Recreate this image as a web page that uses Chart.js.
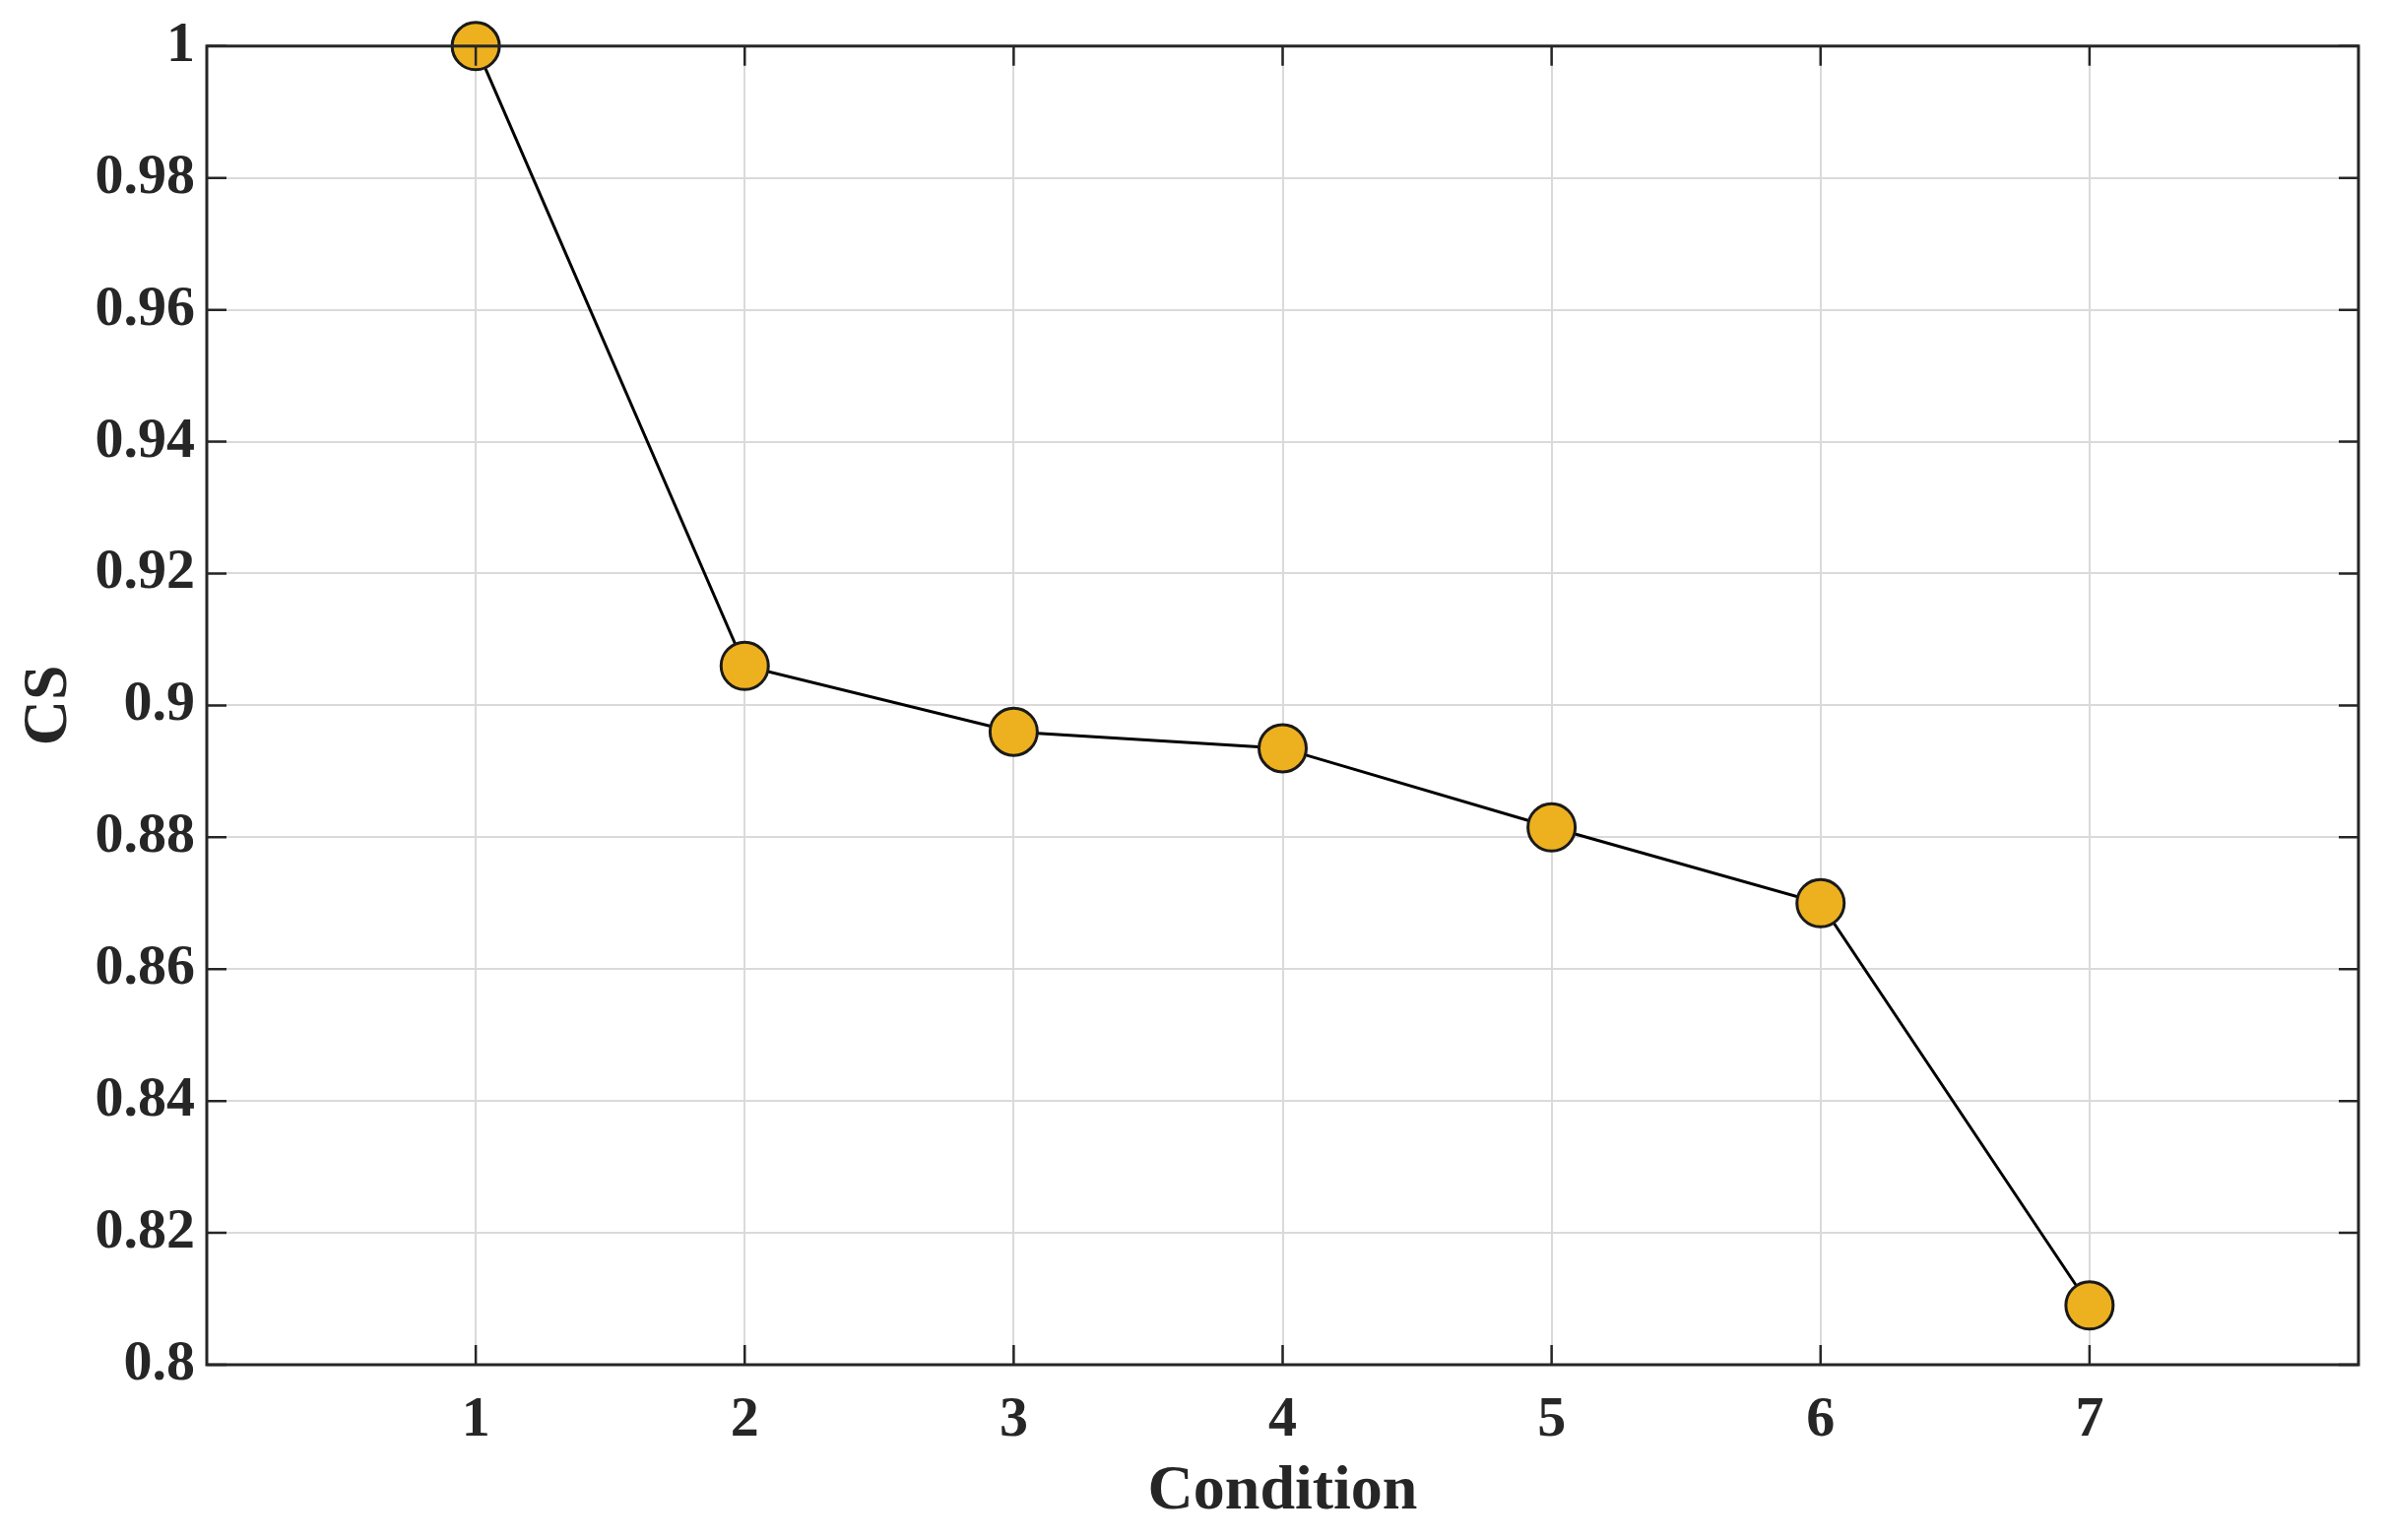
<!DOCTYPE html>
<html>
<head>
<meta charset="utf-8">
<script src="https://cdn.jsdelivr.net/npm/chart.js@4/dist/chart.umd.min.js"></script>
<style>
  html, body { margin: 0; padding: 0; background: #fff; }
  #wrap { width: 2426px; height: 1564px; }
</style>
</head>
<body>
<div id="wrap"><canvas id="c"></canvas></div>
<script>
const conditions = [1, 2, 3, 4, 5, 6, 7];
const csValues = [1.0, 0.906, 0.896, 0.8935, 0.8815, 0.870, 0.809];
const yTicks = [0.8, 0.82, 0.84, 0.86, 0.88, 0.9, 0.92, 0.94, 0.96, 0.98, 1];
const xTicks = [1, 2, 3, 4, 5, 6, 7];

const font = 'Liberation Serif, Times New Roman, serif';
const ink = '#262626';

// box around the axes plus inward tick marks (matlab style)
const boxPlugin = {
  id: 'box',
  afterDraw(chart) {
    const { ctx, chartArea: a, scales } = chart;
    ctx.save();
    ctx.strokeStyle = ink;
    ctx.lineWidth = 2.5;
    const len = 20;
    ctx.beginPath();
    xTicks.forEach(v => {
      const px = scales.x.getPixelForValue(v);
      ctx.moveTo(px, a.bottom); ctx.lineTo(px, a.bottom - len);
      ctx.moveTo(px, a.top); ctx.lineTo(px, a.top + len);
    });
    yTicks.forEach(v => {
      const py = scales.y.getPixelForValue(v);
      ctx.moveTo(a.left, py); ctx.lineTo(a.left + len, py);
      ctx.moveTo(a.right, py); ctx.lineTo(a.right - len, py);
    });
    ctx.stroke();
    ctx.lineWidth = 3;
    ctx.strokeRect(a.left, a.top, a.right - a.left, a.bottom - a.top);
    ctx.restore();
  }
};

new Chart(document.getElementById('c'), {
  type: 'line',
  data: {
    datasets: [{
      label: 'CS',
      data: conditions.map((x, i) => ({ x: x, y: csValues[i] })),
      borderColor: '#000',
      borderWidth: 3,
      backgroundColor: '#EDB120',
      pointBackgroundColor: '#EDB120',
      pointBorderColor: '#1a1a1a',
      pointBorderWidth: 3,
      pointRadius: 24,
      tension: 0,
      clip: false
    }]
  },
  options: {
    responsive: true,
    maintainAspectRatio: false,
    animation: false,
    events: [],
    layout: { padding: { left: 0, right: 31, top: 45, bottom: 10 } },
    plugins: { legend: { display: false }, tooltip: { enabled: false } },
    scales: {
      x: {
        type: 'linear',
        min: 0,
        max: 8,
        afterBuildTicks: s => { s.ticks = xTicks.map(v => ({ value: v })); },
        afterFit: s => { s.height = 1564 - 1386 - 10; },
        grid: { color: '#dadada', lineWidth: 2, drawTicks: false },
        border: { display: false },
        ticks: {
          color: ink,
          padding: 22,
          maxRotation: 0,
          font: { family: font, size: 58, weight: 'bold' }
        },
        title: {
          display: true,
          text: 'Condition',
          color: ink,
          padding: { top: 0, bottom: 0 },
          font: { family: font, size: 64, weight: 'bold' }
        }
      },
      y: {
        min: 0.8,
        max: 1,
        afterBuildTicks: s => { s.ticks = yTicks.map(v => ({ value: v })); },
        afterFit: s => { s.width = 210; },
        grid: { color: '#dadada', lineWidth: 2, drawTicks: false },
        border: { display: false },
        ticks: {
          color: ink,
          padding: 12,
          font: { family: font, size: 58, weight: 'bold' },
          callback: v => String(Math.round(v * 100) / 100)
        },
        title: {
          display: true,
          text: 'CS',
          color: ink,
          padding: { top: 12, bottom: 0 },
          font: { family: font, size: 64, weight: 'bold' }
        }
      }
    }
  },
  plugins: [boxPlugin]
});
</script>
</body>
</html>
